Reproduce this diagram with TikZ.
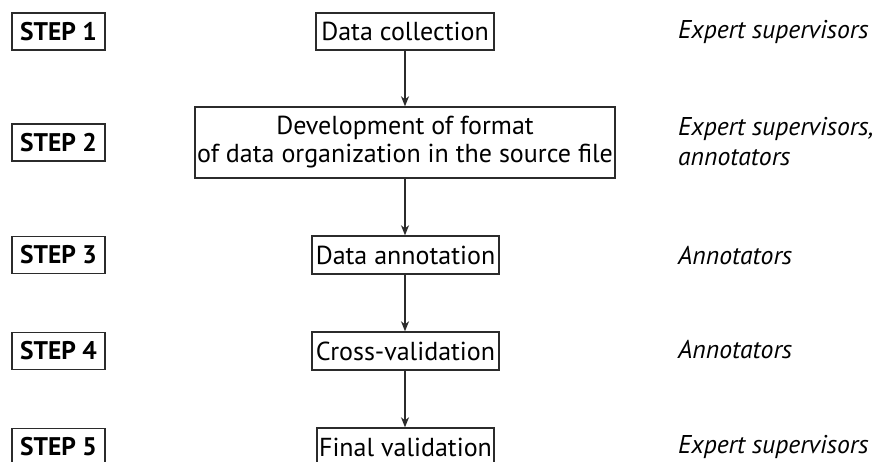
\documentclass[tikz,border=0pt]{standalone}
\usepackage{fontspec}
\setmainfont{PT Sans}
\usetikzlibrary{arrows.meta}
\definecolor{ln}{HTML}{2B2B2B}
\begin{document}
\begin{tikzpicture}[x=1pt,y=-1pt,
  stepbox/.style={draw=ln,line width=1.4pt,minimum width=93pt,minimum height=37pt,inner sep=0pt,font=\fontsize{25.5}{28}\selectfont\bfseries},
  procbox/.style={draw=ln,line width=1.4pt,minimum height=38pt,inner sep=0pt,font=\fontsize{26}{28}\selectfont,align=center},
  role/.style={anchor=west,inner sep=0pt,font=\fontsize{25.7}{30}\selectfont\itshape,align=left},
  flow/.style={draw=ln,line width=1.2pt,-{Stealth[length=10pt,width=8pt,inset=3pt]}}]
\useasboundingbox (0,0) rectangle (876,462);
\fill[white] (0,0) rectangle (876,462);
\node[stepbox] (s1) at (58.5,31.5) {STEP 1};
\node[stepbox] (s2) at (58.5,142.5) {STEP 2};
\node[stepbox] (s3) at (58.5,255) {STEP 3};
\node[stepbox] (s4) at (58.5,351) {STEP 4};
\node[stepbox] (s5) at (58.5,447) {STEP 5};
\node[procbox,minimum width=178pt,minimum height=37pt] (b1) at (405,31.5) {Data collection};
\node[procbox,minimum width=420pt,minimum height=71pt] (b2) at (405,142.5) {Development of format\\of data organization in the source file};
\node[procbox,minimum width=187pt] (b3) at (405.5,255) {Data annotation};
\node[procbox,minimum width=187pt] (b4) at (405.5,351) {Cross-validation};
\node[procbox,minimum width=177pt] (b5) at (405.5,447) {Final validation};
\draw[flow] (b1.south -| 405,0) -- (b2.north -| 405,0);
\draw[flow] (b2.south -| 405,0) -- (b3.north -| 405,0);
\draw[flow] (b3.south -| 405,0) -- (b4.north -| 405,0);
\draw[flow] (b4.south -| 405,0) -- (b5.north -| 405,0);
\node[role] (r1) at (678,31.5) {Expert supervisors};
\node[role] (r2) at (678,142) {Expert supervisors,\\annotators};
\node[role] (r3) at (678,256) {Annotators};
\node[role] (r4) at (678,350) {Annotators};
\node[role] (r5) at (678,447) {Expert supervisors};
\end{tikzpicture}
\end{document}
